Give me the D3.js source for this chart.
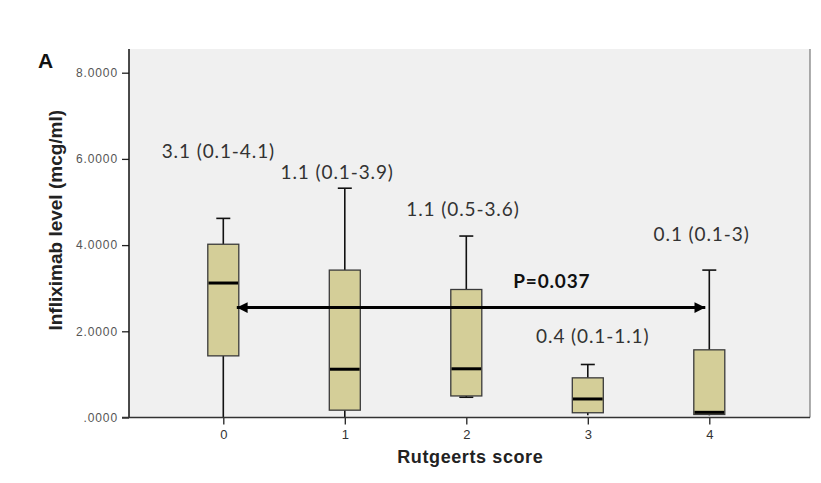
<!DOCTYPE html>
<html>
<head>
<meta charset="utf-8">
<script src="https://cdn.jsdelivr.net/npm/d3@7"></script>
<style>
  html, body { margin: 0; padding: 0; background: #fff; }
  svg { display: block; }
</style>
</head>
<body>
<svg id="chart" width="821" height="483"></svg>
<script>
// ---- data ----
const categories = ["0", "1", "2", "3", "4"];
const whiskerLow  = [0.00, 0.00, 0.47, 0.05, 0.05];
const q1Values    = [1.43, 0.17, 0.50, 0.11, 0.07];
const medians     = [3.12, 1.12, 1.13, 0.43, 0.12];
const q3Values    = [4.02, 3.42, 2.97, 0.92, 1.57];
const whiskerHigh = [4.62, 5.32, 4.21, 1.23, 3.42];
const lowCapShown = [false, false, true, false, false];
const summaryLabels = ["3.1 (0.1-4.1)", "1.1 (0.1-3.9)", "1.1 (0.5-3.6)", "0.4 (0.1-1.1)", "0.1 (0.1-3)"];
const labelLevels = [6.03, 5.53, 4.67, 1.72, 4.10];
const labelOffsets = [-61.6, -64.3, -60, -51.7, -55.7];
const yTicks = [0, 2, 4, 6, 8];
const pText = "P=0.037";
const arrowLevel = 2.55;
const yTitle = "Infliximab level (mcg/ml)";
const xTitle = "Rutgeerts score";
const panelLetter = "A";

// ---- layout ----
const svg = d3.select("#chart");
const frame = { left: 129, right: 810, top: 49, bottom: 417.5 };

const x = d3.scalePoint().domain(categories).range([223.3, 709.3]);
const y = d3.scaleLinear().domain([0, 8]).range([417.5, 72.7]);

const boxW = 31, capW = 14;

// plot background
svg.append("rect")
  .attr("x", frame.left).attr("y", frame.top)
  .attr("width", frame.right - frame.left).attr("height", frame.bottom - frame.top)
  .attr("fill", "#f0f0f0");
svg.append("line")
  .attr("x1", frame.right).attr("x2", frame.right)
  .attr("y1", frame.top).attr("y2", frame.bottom)
  .attr("stroke", "#777").attr("stroke-width", 1.2);

// boxes
const g = svg.append("g");
categories.forEach((c, i) => {
  const cx = x(c);
  // whiskers
  g.append("line").attr("x1", cx).attr("x2", cx)
    .attr("y1", y(q3Values[i])).attr("y2", y(whiskerHigh[i]))
    .attr("stroke", "#111").attr("stroke-width", 1.6);
  g.append("line").attr("x1", cx - capW / 2).attr("x2", cx + capW / 2)
    .attr("y1", y(whiskerHigh[i])).attr("y2", y(whiskerHigh[i]))
    .attr("stroke", "#111").attr("stroke-width", 1.6);
  g.append("line").attr("x1", cx).attr("x2", cx)
    .attr("y1", y(q1Values[i])).attr("y2", y(whiskerLow[i]))
    .attr("stroke", "#111").attr("stroke-width", 1.6);
  if (lowCapShown[i]) {
    g.append("line").attr("x1", cx - capW / 2).attr("x2", cx + capW / 2)
      .attr("y1", y(whiskerLow[i])).attr("y2", y(whiskerLow[i]))
      .attr("stroke", "#111").attr("stroke-width", 1.6);
  }
  // box
  g.append("rect")
    .attr("x", cx - boxW / 2).attr("width", boxW)
    .attr("y", y(q3Values[i])).attr("height", y(q1Values[i]) - y(q3Values[i]))
    .attr("fill", "#d4ce98").attr("stroke", "#3a3a3a").attr("stroke-width", 1.3);
  // median
  g.append("line").attr("x1", cx - boxW / 2 + 0.7).attr("x2", cx + boxW / 2 - 0.7)
    .attr("y1", y(medians[i])).attr("y2", y(medians[i]))
    .attr("stroke", "#000").attr("stroke-width", 3);
});

// axes
const yAxis = d3.axisLeft(y).tickValues(yTicks).tickSize(7).tickPadding(4)
  .tickFormat(d => { const s = d3.format(".4f")(d); return d === 0 ? s.replace(/^0/, "") : s; });
const ya = svg.append("g").attr("transform", `translate(${frame.left},0)`).call(yAxis);
ya.select(".domain").remove();
ya.selectAll(".tick line").attr("stroke", "#222").attr("stroke-width", 1.3);
ya.selectAll(".tick text").attr("fill", "#555").attr("font-family", "Liberation Sans, Arial, sans-serif")
  .attr("font-size", 12).attr("letter-spacing", 0.9);

const xAxis = d3.axisBottom(x).tickSize(7).tickPadding(5);
const xa = svg.append("g").attr("transform", `translate(0,${frame.bottom})`).call(xAxis);
xa.select(".domain").remove();
xa.selectAll(".tick line").attr("stroke", "#222").attr("stroke-width", 1.3);
xa.selectAll(".tick text").attr("fill", "#333").attr("font-family", "Liberation Sans, Arial, sans-serif")
  .attr("font-size", 13);

svg.append("line").attr("x1", frame.left).attr("x2", frame.left)
  .attr("y1", frame.top).attr("y2", frame.bottom)
  .attr("stroke", "#111").attr("stroke-width", 1.5);
svg.append("line").attr("x1", frame.left - 7).attr("x2", frame.right)
  .attr("y1", frame.bottom).attr("y2", frame.bottom)
  .attr("stroke", "#333").attr("stroke-width", 1.5);

// titles
svg.append("text")
  .attr("transform", `translate(62,${(frame.top + frame.bottom) / 2 - 13}) rotate(-90)`)
  .attr("text-anchor", "middle")
  .attr("font-family", "Liberation Sans, Arial, sans-serif").attr("font-weight", "bold")
  .attr("font-size", 19).attr("fill", "#222").text(yTitle);

svg.append("text")
  .attr("x", (x(categories[0]) + x(categories[4])) / 2 + 4).attr("y", 463)
  .attr("text-anchor", "middle")
  .attr("font-family", "Liberation Sans, Arial, sans-serif").attr("font-weight", "bold")
  .attr("font-size", 18).attr("letter-spacing", 0.6).attr("fill", "#222").text(xTitle);

svg.append("text")
  .attr("x", 38).attr("y", 68)
  .attr("font-family", "Liberation Sans, Arial, sans-serif").attr("font-weight", "bold")
  .attr("font-size", 21).attr("fill", "#111").text(panelLetter);

// summary labels
categories.forEach((c, i) => {
  svg.append("text")
    .attr("x", x(c) + labelOffsets[i]).attr("y", y(labelLevels[i]))
    .attr("font-family", "Lato, 'Open Sans', sans-serif")
    .attr("font-size", 19).attr("letter-spacing", 0.9)
    .attr("fill", "#333").text(summaryLabels[i]);
});

// arrow
const defs = svg.append("defs");
["start", "end"].forEach(k => {
  defs.append("marker").attr("id", "arrow-" + k)
    .attr("viewBox", "0 0 10 10").attr("refX", k === "end" ? 10 : 0).attr("refY", 5)
    .attr("markerWidth", 4).attr("markerHeight", 3.6).attr("markerUnits", "strokeWidth")
    .attr("orient", "auto")
    .append("path")
    .attr("d", k === "end" ? "M0,0 L10,5 L0,10 Z" : "M10,0 L0,5 L10,10 Z")
    .attr("fill", "#000");
});
svg.append("line")
  .attr("x1", x(categories[0]) + boxW / 2 - 2).attr("x2", x(categories[4]) - 4)
  .attr("y1", y(arrowLevel)).attr("y2", y(arrowLevel))
  .attr("stroke", "#000").attr("stroke-width", 3)
  .attr("marker-start", "url(#arrow-start)").attr("marker-end", "url(#arrow-end)");

svg.append("text")
  .attr("x", 513.3).attr("y", 287.7)
  .attr("font-family", "Lato, 'Open Sans', sans-serif").attr("font-weight", "bold")
  .attr("font-size", 19).attr("letter-spacing", 0.8)
  .attr("fill", "#111").text(pText);
</script>
</body>
</html>
